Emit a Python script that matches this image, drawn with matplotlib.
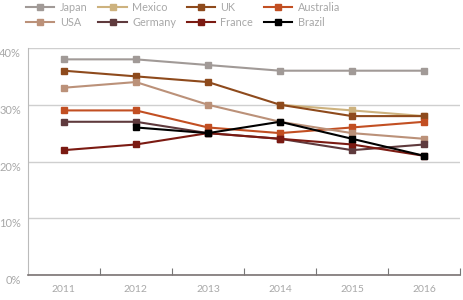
import matplotlib
matplotlib.use("Agg")
import matplotlib.pyplot as plt
import numpy as np

years = ["2011", "2012", "2013", "2014", "2015", "2016"]
series_names = ["Japan", "Mexico", "UK", "Australia", "USA", "Germany", "France", "Brazil"]
japan = [38, 38, 37, 36, 36, 36]
mexico = [None, None, None, 30, 29, 28]
uk = [36, 35, 34, 30, 28, 28]
australia = [29, 29, 26, 25, 26, 27]
usa = [33, 34, 30, 27, 25, 24]
germany = [27, 27, 25, 24, 22, 23]
france = [22, 23, 25, 24, 23, 21]
brazil = [None, 26, 25, 27, 24, 21]
colors = ["#a19a97", "#cdb27e", "#8e4a1c", "#c24f22", "#bb9179", "#5f3a3d", "#7b1a12", "#000000"]
yticks = [0, 10, 20, 30, 40]
ytick_labels = ["0%", "10%", "20%", "30%", "40%"]

plt.rcParams['font.family'] = ['Lato', 'DejaVu Sans']
fig = plt.figure(figsize=(4.63, 3.0), dpi=100)
ax = fig.add_axes([0.06, 0.0833, 0.934, 0.7567])

data = [japan, mexico, uk, australia, usa, germany, france, brazil]
x = np.arange(len(years)) + 0.5
handles = {}
for name, vals, c in zip(series_names, data, colors):
    v = np.array([np.nan if a is None else a for a in vals], dtype=float)
    h, = ax.plot(x, v, color=c, lw=1.5, marker='s', ms=4.5, mec=c, mfc=c, label=name)
    handles[name] = h

ax.set_xlim(0, len(years))
ax.set_ylim(0, 40)
ax.set_yticks(yticks)
ax.set_yticklabels(ytick_labels)
ax.set_xticks(x)
ax.set_xticklabels(years)
ax.set_xticks(np.arange(1, len(years) + 1), minor=True)
ax.tick_params(axis='x', which='major', length=0, pad=7, labelsize=7.5, labelcolor='#a8a8a8')
ax.tick_params(axis='x', which='minor', length=5, direction='in', color='#777777', width=0.8)
ax.tick_params(axis='y', length=0, pad=5, labelsize=8, labelcolor='#a8a8a8')
for lab in ax.get_yticklabels():
    lab.set_verticalalignment('top')
ax.grid(axis='y', color='#cfcfcf', lw=1)
ax.set_axisbelow(True)
for s in ['top', 'right']:
    ax.spines[s].set_visible(False)
ax.spines['left'].set_color('#bbbbbb')
ax.spines['bottom'].set_color('#7a7373')
ax.spines['bottom'].set_linewidth(1.2)

order = ["Japan", "USA", "Mexico", "Germany", "UK", "France", "Australia", "Brazil"]
fig.legend([handles[n] for n in order], order, ncol=4, loc='upper left',
           bbox_to_anchor=(0.045, 1.012), frameon=False, fontsize=7.8,
           labelcolor='#a8a8a8', handlelength=2.6, handletextpad=0.5,
           columnspacing=1.0, labelspacing=0.4, borderaxespad=0.1)

fig.savefig("out.png", dpi=100)
